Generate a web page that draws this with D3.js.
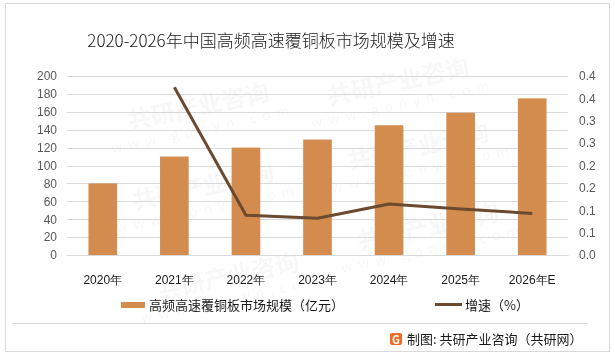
<!DOCTYPE html>
<html><head><meta charset="utf-8">
<script src="https://cdn.jsdelivr.net/npm/d3@7"></script>
<style>
html,body{margin:0;padding:0;background:#fff;}
svg{display:block;font-family:"Noto Sans CJK SC","Noto Sans",sans-serif;}
</style></head>
<body><svg id="c" width="615" height="360"></svg>
<script>
const categories = ["2020年","2021年","2022年","2023年","2024年","2025年","2026年E"];
const marketSize = [80,110,120,129,145,159,175];
const growth = [null,0.375,0.089,0.082,0.114,0.103,0.093];
const leftTicks = [0,20,40,60,80,100,120,140,160,180,200];
const rightTicks = [0,0.05,0.1,0.15,0.2,0.25,0.3,0.35,0.4];
const title = "2020-2026年中国高频高速覆铜板市场规模及增速";
const legendBar = "高频高速覆铜板市场规模（亿元）";
const legendLine = "增速（%）";
const source = "制图: 共研产业咨询（共研网）";

const svg = d3.select("#c");
const BAR="#D38B4E", LINE="#6B4A2F", GRID="#D9D9D9", TXT="#595959";

// faint watermarks (inside frame)
const wm = [[400,90],[200,115],[420,155],[205,195],[430,235],[230,285]];
const wg = svg.append("g").attr("opacity",0.035);
wm.forEach(([x,y])=>{
  const g = wg.append("g").attr("transform",`translate(${x},${y}) rotate(-12)`);
  g.append("text").attr("text-anchor","middle").attr("font-size",24).attr("font-weight",700).attr("fill","#000").text("共研产业咨询");
  g.append("text").attr("text-anchor","middle").attr("y",19).attr("font-size",14).attr("letter-spacing",6).attr("fill","#000").text("www.gonyn.com");
});

// frame
svg.append("rect").attr("x",5.5).attr("y",3.5).attr("width",604).attr("height",348).attr("fill","none").attr("stroke","#D9D9D9");
svg.append("line").attr("x1",12).attr("x2",588).attr("y1",323.5).attr("y2",323.5).attr("stroke","#D9D9D9");

// title
svg.append("text").attr("x",271).attr("y",47).attr("text-anchor","middle").attr("font-size",17).attr("font-weight",300).attr("fill","#1a1a1a").text(title);

const x = d3.scaleBand().domain(categories).range([67,568]).paddingInner(0.6).paddingOuter(0.3);
const yL = d3.scaleLinear().domain([0,200]).range([255,76]);
const yR = d3.scaleLinear().domain([0,0.4]).range([255,76]);

// grid
svg.append("g").selectAll("line").data(leftTicks).join("line")
  .attr("x1",67).attr("x2",568).attr("y1",d=>Math.round(yL(d))+0.5).attr("y2",d=>Math.round(yL(d))+0.5)
  .attr("stroke",GRID).attr("stroke-width",1);

// left axis
const ax = svg.append("g").attr("transform","translate(67,0)").call(d3.axisLeft(yL).tickValues(leftTicks).tickSize(0).tickPadding(10));
ax.select(".domain").remove();
ax.selectAll("text").attr("font-size",12).attr("fill",TXT).attr("font-family","Liberation Sans, Arial, sans-serif");

// right axis
const fmt = d => (Math.round(d*10+1e-9)/10).toFixed(1);
const ar = svg.append("g").attr("transform","translate(568,0)").call(d3.axisRight(yR).tickValues(rightTicks).tickSize(0).tickPadding(11).tickFormat(fmt));
ar.select(".domain").remove();
ar.selectAll("text").attr("font-size",12).attr("fill",TXT).attr("font-family","Liberation Sans, Arial, sans-serif");

// bars
svg.append("g").selectAll("rect").data(marketSize).join("rect")
  .attr("x",(d,i)=>x(categories[i])).attr("width",x.bandwidth())
  .attr("y",d=>yL(d)).attr("height",d=>yL(0)-yL(d)).attr("fill",BAR);

// x axis
const axb = svg.append("g").attr("transform","translate(0,255)").call(d3.axisBottom(x).tickSize(0).tickPadding(20));
axb.select(".domain").attr("stroke",GRID);
axb.selectAll("text").attr("font-size",12).attr("fill","#1a1a1a");

// line
const pts = growth.map((g,i)=>[categories[i],g]).filter(d=>d[1]!=null);
svg.append("path").datum(pts)
  .attr("d",d3.line().x(d=>x(d[0])+x.bandwidth()/2).y(d=>yR(d[1])))
  .attr("fill","none").attr("stroke",LINE).attr("stroke-width",3).attr("stroke-linejoin","round");

// legend
svg.append("rect").attr("x",121).attr("y",302).attr("width",24).attr("height",6).attr("fill",BAR);
svg.append("text").attr("x",149).attr("y",310).attr("font-size",13).attr("fill","#1a1a1a").text(legendBar);
svg.append("line").attr("x1",435).attr("x2",462).attr("y1",304.5).attr("y2",304.5).attr("stroke",LINE).attr("stroke-width",3);
svg.append("text").attr("x",465).attr("y",310).attr("font-size",13).attr("fill","#1a1a1a").text(legendLine);

// source
const lg = svg.append("g").attr("transform","translate(390,333)");
lg.append("rect").attr("width",12).attr("height",12).attr("rx",2).attr("fill","#F26B22");
lg.append("text").attr("x",6).attr("y",10.5).attr("text-anchor","middle").attr("font-size",11).attr("font-weight",700).attr("fill","#fff").text("G");
svg.append("text").attr("x",407).attr("y",344).attr("font-size",13).attr("fill","#1a1a1a").text(source);
</script></body></html>
